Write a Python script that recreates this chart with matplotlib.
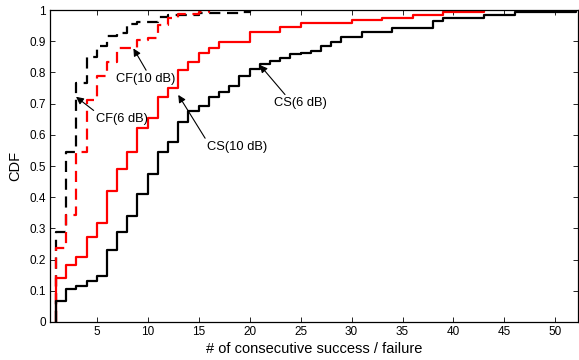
import matplotlib
matplotlib.use('Agg')
import matplotlib.pyplot as plt

plt.rcParams['font.family'] = ['Liberation Sans', 'DejaVu Sans']

# CS 6 dB (black solid)
cs6_x = [1, 2, 3, 4, 5, 6, 7, 8, 9, 10, 11, 12, 13, 14, 15, 16, 17, 18, 19, 20,
         21, 22, 23, 24, 25, 26, 27, 28, 29, 31, 34, 38, 39, 43, 46, 52]
cs6_y = [0.068, 0.105, 0.115, 0.131, 0.147, 0.23, 0.29, 0.34, 0.41, 0.473, 0.546,
         0.578, 0.642, 0.677, 0.693, 0.722, 0.738, 0.756, 0.79, 0.81, 0.826, 0.837,
         0.847, 0.858, 0.863, 0.869, 0.884, 0.898, 0.915, 0.93, 0.941, 0.966, 0.975,
         0.984, 0.995, 1.0]

# CS 10 dB (red solid)
cs10_x = [1, 2, 3, 4, 5, 6, 7, 8, 9, 10, 11, 12, 13, 14, 15, 16, 17, 20, 23, 25,
          30, 33, 36, 39, 43]
cs10_y = [0.14, 0.183, 0.209, 0.271, 0.316, 0.421, 0.492, 0.546, 0.621, 0.653,
          0.722, 0.749, 0.808, 0.834, 0.861, 0.88, 0.897, 0.93, 0.946, 0.957, 0.968,
          0.976, 0.984, 0.994, 1.0]

# CF 6 dB (black dashed)
cf6_x = [1, 2, 3, 4, 5, 6, 7, 8, 9, 11, 12, 15, 19, 20]
cf6_y = [0.29, 0.546, 0.765, 0.85, 0.885, 0.917, 0.927, 0.955, 0.962, 0.979,
         0.984, 0.99, 0.995, 1.0]

# CF 10 dB (red dashed)
cf10_x = [1, 2, 3, 4, 5, 6, 7, 9, 10, 11, 12, 13, 15, 16]
cf10_y = [0.236, 0.343, 0.546, 0.712, 0.79, 0.832, 0.878, 0.905, 0.912, 0.952,
          0.974, 0.988, 0.995, 1.0]

fig = plt.figure(figsize=(5.79, 3.6), dpi=100)
ax = fig.add_axes([0.0864, 0.1056, 0.9116, 0.8664])


def cdf_line(xs, ys, color, ls):
    # start with the vertical jump at the first value
    ax.plot([xs[0]] + xs, [0] + ys, drawstyle='steps-post', color=color,
            linestyle=ls, lw=1.6, dashes=(5, 3) if ls == '--' else (None, None))


cdf_line(cf6_x, cf6_y, 'k', '--')
cdf_line(cf10_x, cf10_y, '#ff0000', '--')
cdf_line(cs10_x, cs10_y, '#ff0000', '-')
cdf_line(cs6_x, cs6_y, 'k', '-')

ax.set_xlim(0.42, 52.2)
ax.set_ylim(0, 1)
ax.set_xticks(range(5, 51, 5))
yt = [i / 10 for i in range(11)]
ax.set_yticks(yt)
ax.set_yticklabels(['0'] + ['%.1f' % v for v in yt[1:-1]] + ['1'])
ax.tick_params(direction='in', top=True, right=True, length=3.5, width=0.6,
               labelsize=8.5, pad=3)
for s in ax.spines.values():
    s.set_linewidth(0.9)

ax.set_xlabel('# of consecutive success / failure', fontsize=10.5, labelpad=3)
ax.set_ylabel('CDF', fontsize=10.5, labelpad=5)

arrow = dict(arrowstyle='-|>', color='k', lw=0.8, mutation_scale=11, shrinkA=0, shrinkB=0)

ax.annotate('CF(10 dB)', xy=(8.6, 0.877), xytext=(9.83, 0.779), ha='center', va='center',
            fontsize=9.3, arrowprops=dict(arrow, relpos=(0.53, 1)))
ax.annotate('CF(6 dB)', xy=(2.97, 0.722), xytext=(7.45, 0.65), ha='center', va='center',
            fontsize=9.3, arrowprops=dict(arrow, relpos=(0.03, 1)))
ax.annotate('CS(10 dB)', xy=(13.0, 0.728), xytext=(18.76, 0.561), ha='center', va='center',
            fontsize=9.3, arrowprops=dict(arrow, relpos=(0.0, 1)))
ax.annotate('CS(6 dB)', xy=(21.0, 0.824), xytext=(25.0, 0.701), ha='center', va='center',
            fontsize=9.3, arrowprops=dict(arrow, relpos=(0.25, 1)))

fig.savefig('out.png', dpi=100)
